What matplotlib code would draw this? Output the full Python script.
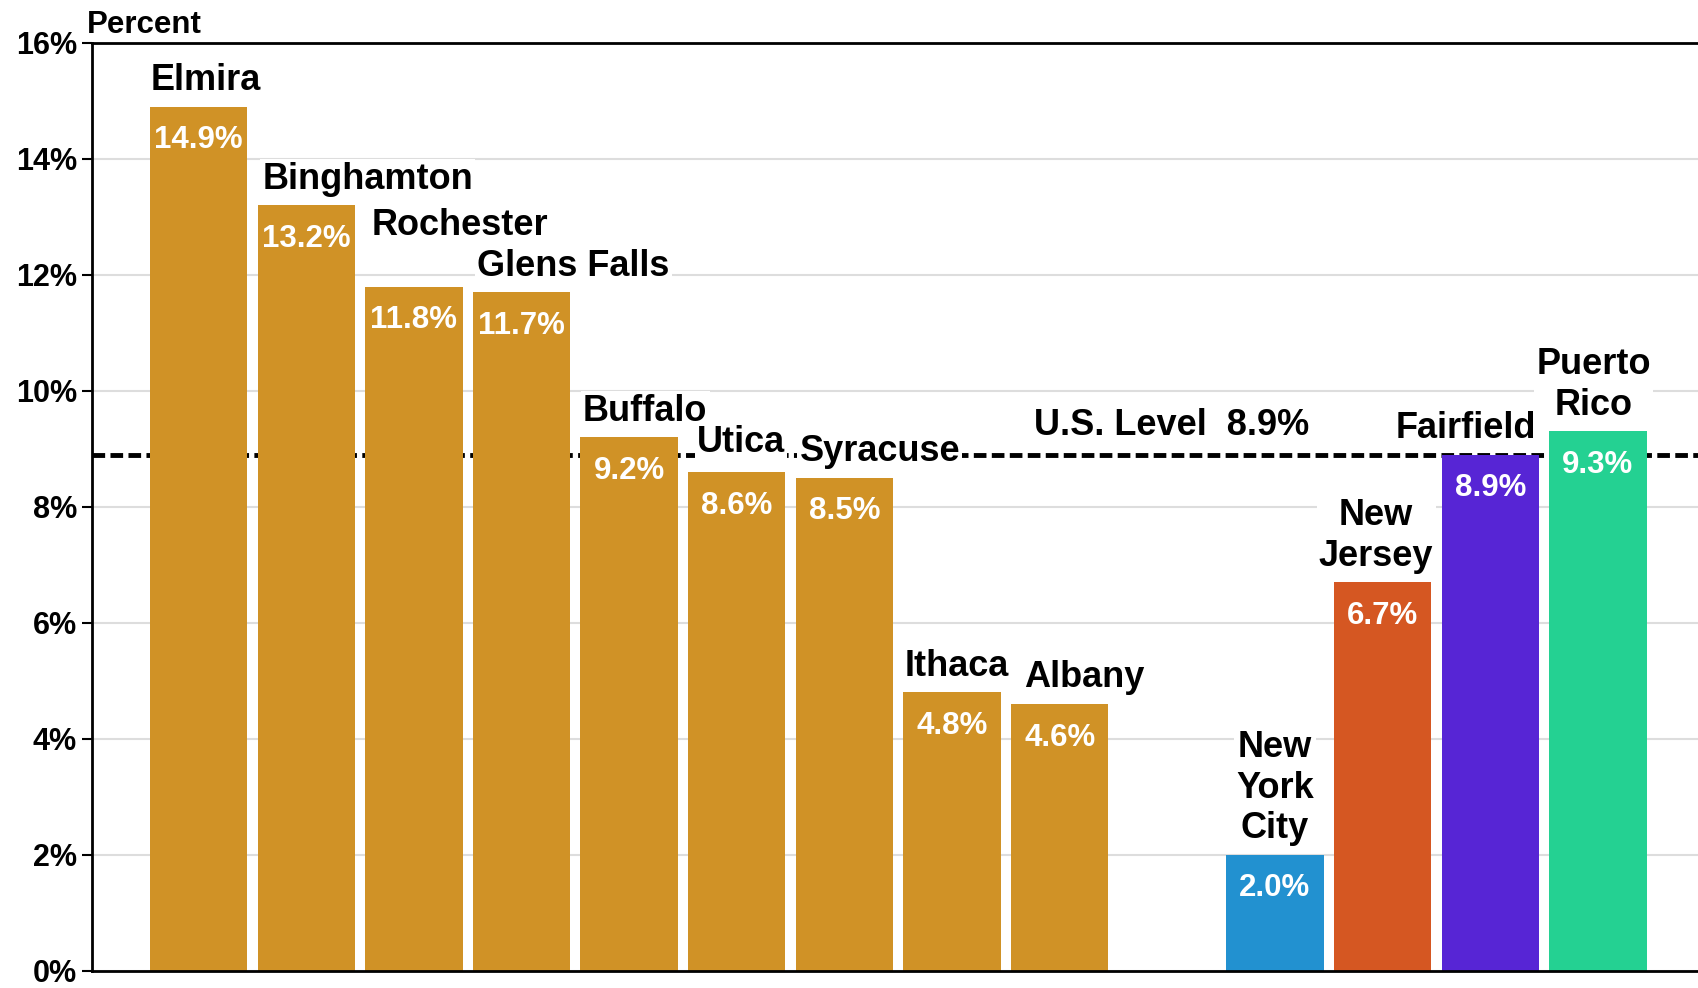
import matplotlib
matplotlib.use('Agg')
import matplotlib.pyplot as plt

# share of population, by area
names = ['Elmira', 'Binghamton', 'Rochester', 'Glens Falls', 'Buffalo', 'Utica',
         'Syracuse', 'Ithaca', 'Albany',
         'New\nYork\nCity', 'New\nJersey', 'Fairfield', 'Puerto\nRico']
values = [14.9, 13.2, 11.8, 11.7, 9.2, 8.6, 8.5, 4.8, 4.6, 2.0, 6.7, 8.9, 9.3]
us_level = 8.9
yticks = [0, 2, 4, 6, 8, 10, 12, 14, 16]

# upstate metros first, then a gap, then the comparison areas
positions = list(range(9)) + [10, 11, 12, 13]
orange = '#D09226'
colors = [orange] * 9 + ['#2291D0', '#D55722', '#5725D5', '#24D192']

# nudges so the name labels don't run into each other
label_dx = [0.07, 0.57, 0.43, 0.48, 0.15, 0.04, 0.33, 0.04, 0.23, 0.0, -0.06, -0.23, -0.04]
label_dy = [0.15, 0.15, 0.75, 0.15, 0.15, 0.2, 0.15, 0.15, 0.15, 0.15, 0.15, 0.15, 0.15]

plt.rcParams['font.family'] = ['Liberation Sans', 'DejaVu Sans']
plt.rcParams['font.weight'] = 'bold'

fig = plt.figure(figsize=(16.98, 9.88), dpi=100)
ax = fig.add_axes([0.0542, 0.0175, 0.9458, 0.939])

ax.set_axisbelow(True)
ax.grid(axis='y', color='#dddddd', linewidth=1.5)
ax.axhline(us_level, color='black', linewidth=3.5, dashes=(2.6, 1.1), zorder=1.5)

ax.bar(positions, values, width=0.905, color=colors, zorder=2)

for x, v, name, dx, dy in zip(positions, values, names, label_dx, label_dy):
    ax.text(x + dx, v + dy, name, ha='center', va='bottom', fontsize=26,
            fontweight='bold', linespacing=1.2, zorder=4,
            bbox=dict(facecolor='white', edgecolor='none', pad=1.5))
    ax.text(x, v - 0.58, f'{v:.1f}%', ha='center', va='center', fontsize=22.5,
            fontweight='bold', color='white', zorder=4)

ax.text(9.04, us_level + 0.2, 'U.S. Level  8.9%', ha='center', va='bottom',
        fontsize=26, fontweight='bold', zorder=4,
        bbox=dict(facecolor='white', edgecolor='none', pad=1.5))

ax.text(-0.003, 1.011, 'Percent', transform=ax.transAxes, ha='left',
        va='baseline', fontsize=22.5, fontweight='bold')

ax.set_xlim(-0.99, 13.93)
ax.set_ylim(0, 16)
ax.set_yticks(yticks)
ax.set_yticklabels([f'{t}%' for t in yticks])
ax.set_xticks([])
ax.tick_params(axis='y', length=7, width=1.5, labelsize=22, pad=4)

for side in ['left', 'top', 'bottom']:
    ax.spines[side].set_linewidth(2)
ax.spines['right'].set_visible(False)

fig.savefig('out.png', dpi=100)
